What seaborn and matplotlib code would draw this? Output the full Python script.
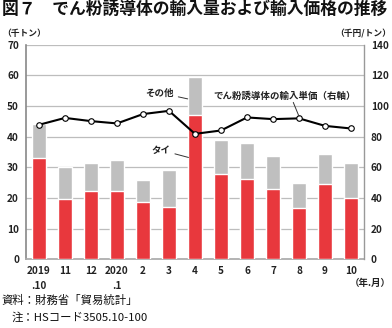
import numpy as np
import pandas as pd
import matplotlib
matplotlib.use("Agg")
import matplotlib.pyplot as plt
import seaborn as sns

sns.set_theme(style="white")
plt.rcParams['font.family'] = ['Noto Sans CJK JP', 'DejaVu Sans']

months = ["2019\n.10", "11", "12", "2020\n.1", "2", "3", "4", "5", "6", "7", "8", "9", "10"]
total = [44.1, 30.2, 31.4, 32.3, 26.0, 29.2, 59.6, 38.9, 38.0, 33.6, 25.0, 34.4, 31.5]
thai = [33.1, 19.5, 22.3, 22.3, 18.8, 17.1, 47.0, 27.7, 26.3, 23.0, 16.8, 24.5, 19.9]
unit_price = [87.7, 92.2, 90.1, 88.6, 94.7, 96.8, 81.8, 84.0, 92.5, 91.4, 91.9, 87.0, 85.3]

df = pd.DataFrame({"month": months, "total": total, "thai": thai, "price": unit_price})

RED = "#E8383D"
GRAY = "#BFBFBF"

fig = plt.figure(figsize=(3.92, 3.28), dpi=100)
ax = fig.add_axes([0.0663, 0.2095, 0.8623, 0.6545])

for v in range(10, 80, 10):
    ax.axhline(v, color="#BDBDBD", lw=0.9, zorder=0)

sns.barplot(data=df, x="month", y="total", color=GRAY, width=0.55, ax=ax,
            saturation=1, zorder=2)
sns.barplot(data=df, x="month", y="thai", color=RED, width=0.55, ax=ax,
            saturation=1, zorder=3)

ax.set_ylim(0, 70)
ax.set_xlim(-0.5, len(months) - 0.5)
ax.set_yticks(range(0, 80, 10))
ax.set_xlabel("")
ax.set_ylabel("")
tickfont = dict(fontsize=7.2, fontweight="bold", color="#222222")
ax.set_yticklabels([str(v) for v in range(0, 80, 10)], **tickfont)
ax.set_xticks(range(len(months)))
ax.set_xticklabels(months, **tickfont, linespacing=1.6)
ax.tick_params(axis="x", length=0, pad=5)
ax.tick_params(axis="y", length=0, pad=5)
ax.set_xticks(np.arange(-0.5, len(months), 1), minor=True)
ax.tick_params(axis="x", which="minor", length=2, color="#888888", direction="out")

ax.spines["top"].set_visible(False)
ax.spines["left"].set_color("#888888")
ax.spines["left"].set_linewidth(1.2)
ax.spines["bottom"].set_color("#AAAAAA")
ax.spines["right"].set_visible(False)

ax2 = ax.twinx()
x = np.arange(len(months))
sns.lineplot(x=x, y=unit_price, ax=ax2, color="black", lw=1.5, marker="o",
             markersize=4, markerfacecolor="white", markeredgecolor="black",
             markeredgewidth=0.8, zorder=5)
ax2.set_ylim(0, 140)
ax2.set_yticks(range(0, 160, 20))
ax2.set_yticklabels([str(v) for v in range(0, 160, 20)], **tickfont)
ax2.tick_params(axis="y", length=0, pad=5)
for s in ["top", "left", "bottom"]:
    ax2.spines[s].set_visible(False)
ax2.spines["right"].set_color("#999999")
ax2.spines["right"].set_linewidth(1.0)
ax2.set_ylabel("")

# annotations
ann = dict(fontsize=6.8, fontweight="bold", color="#222222")
arrow = dict(arrowstyle="-", color="#333333", lw=0.7, shrinkA=1, shrinkB=0)
ax2.annotate("その他", xy=(5.72, 2 * 52.3), xytext=(5.18, 2 * 54.3), ha="right", va="center",
             arrowprops=arrow, zorder=6, **ann)
ax2.annotate("タイ", xy=(5.75, 2 * 33.2), xytext=(5.05, 2 * 35.6), ha="right", va="center",
             arrowprops=arrow, zorder=6, **ann)
ax2.text(9.45, 106.6, "でん粉誘導体の輸入単価（右軸）", ha="center", va="center", zorder=6, **ann)
ax2.annotate("", xy=(10.0, 93.2), xytext=(9.78, 102.3),
             arrowprops=dict(arrowstyle="-", color="#333333", lw=0.7, shrinkA=0, shrinkB=0),
             zorder=6)

# texts
fig.text(0.005, 0.972, "図７　でん粉誘導体の輸入量および輸入価格の推移", fontsize=12.1,
         fontweight="bold", ha="left", va="center", color="#111111")
fig.text(0.005, 0.897, "（千トン）", fontsize=6.3, fontweight="bold", ha="left", va="center", color="#222222")
fig.text(0.997, 0.897, "（千円/トン）", fontsize=6.3, fontweight="bold", ha="right", va="center", color="#222222")
fig.text(0.997, 0.137, "（年.月）", fontsize=6.8, fontweight="bold", ha="right", va="center", color="#222222")
fig.text(0.005, 0.085, "資料：財務省「貿易統計」", fontsize=8.2, ha="left", va="center", color="#111111")
fig.text(0.03, 0.033, "注：HSコード3505.10-100", fontsize=8.2, ha="left", va="center", color="#111111")

fig.savefig("out.png", dpi=100)
